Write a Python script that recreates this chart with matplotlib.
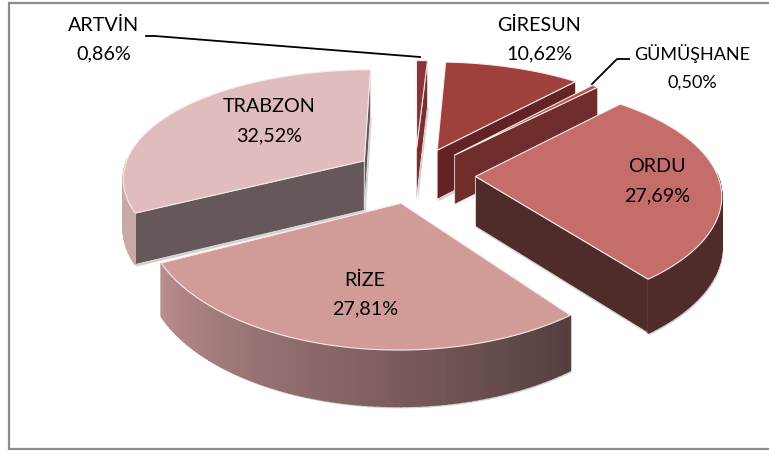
# exploded 3d pie, drawn by hand because matplotlib has no perspective pie
import numpy as np
import matplotlib
matplotlib.use('Agg')
import matplotlib.pyplot as plt
from matplotlib.patches import Polygon, Rectangle

names = ['ARTVİN', 'GİRESUN', 'GÜMÜŞHANE', 'ORDU', 'RİZE', 'TRABZON']
shares = [0.86, 10.62, 0.50, 27.69, 27.81, 32.52]

top_colors = ['#8a3433', '#a0403c', '#bc4f4a', '#c56d6a', '#d19c98', '#e0bcbc']
face_colors = ['#7a2e2e', '#632323', '#6f2d2c', '#4f2c2a', '#8a6a6a', '#665858']
rim_colors = ['#7a2e2e', '#632323', '#6f2d2c', '#4f2c2a', None, '#c9a8a8']
label_pos = [(104, 25), (539, 25), (692, 54), (657, 167), (365, 280), (269, 107)]
label_size = [14.2, 14.2, 13, 14.2, 14.2, 14.2]

# projection settings, in pixels
cx, cy = 415, 176
ax_x, ax_y = 242, 111
k_x, k_y = 0.14, 0.17
depth = 50
explode = 0.25


def proj(x, y, z=0.0):
    sx = 1 / (1 + k_x * y)
    sy = 1 / (1 + k_y * y)
    return cx + ax_x * x * sx, cy - ax_y * y * sy + depth * z * np.sqrt(sy)


def area(pts):
    pts = np.array(pts)
    x, y = pts[:, 0], pts[:, 1]
    return 0.5 * np.sum(x * np.roll(y, -1) - np.roll(x, -1) * y)


fig = plt.figure(figsize=(7.69, 4.52), dpi=100)
ax = fig.add_axes([0, 0, 1, 1])
ax.set_xlim(0, 769)
ax.set_ylim(452, 0)
ax.axis('off')
plt.rcParams['font.family'] = ['Lato', 'DejaVu Sans']

ax.add_patch(Rectangle((9, 4), 765, 446, fc='white', ec='#8c8c8c', lw=1.6, zorder=0))

angles = np.cumsum([0] + shares) * 3.6
draw_order = [0, 1, 2, 5, 3, 4]


def draw_slice(i):
    a0, a1 = np.radians(angles[i]), np.radians(angles[i + 1])
    mid = (a0 + a1) / 2
    ox, oy = explode * np.sin(mid), explode * np.cos(mid)
    t = np.linspace(a0, a1, 80)
    xs, ys = ox + np.sin(t), oy + np.cos(t)

    top = [proj(ox, oy)] + [proj(x, y) for x, y in zip(xs, ys)]
    apex_low = proj(ox, oy, 1)

    # soft shadow under the rim and cut faces
    low = [apex_low] + [proj(x, y, 1) for x, y in zip(xs, ys)]
    ax.add_patch(Polygon([(x + 1.5, y + 2) for x, y in low], fc='#b8b4b4', ec='none', alpha=0.6))

    # cut faces, only when they turn to the viewer
    for a, sign in ((a0, -1), (a1, 1)):
        ex, ey = ox + np.sin(a), oy + np.cos(a)
        face = [proj(ox, oy), proj(ex, ey), proj(ex, ey, 1), apex_low]
        if area(face) * sign > 0:
            ax.add_patch(Polygon(face, fc=face_colors[i], ec='#e8e0e0', lw=0.6))

    # outer rim, split so the gradient on RİZE can follow the arc
    for n in range(len(t) - 1):
        if np.cos((t[n] + t[n + 1]) / 2) > 0.03:
            continue
        q = [proj(xs[n], ys[n]), proj(xs[n + 1], ys[n + 1]),
             proj(xs[n + 1], ys[n + 1], 1), proj(xs[n], ys[n], 1)]
        if rim_colors[i] is None:
            f = n / (len(t) - 2)
            col = tuple(((1 - f) * np.array([84, 62, 62]) + f * np.array([186, 140, 140])) / 255)
        else:
            col = rim_colors[i]
        ax.add_patch(Polygon(q, fc=col, ec=col, lw=1.2))

    ax.add_patch(Polygon(top, fc=top_colors[i], ec='#f4ecec', lw=0.8))


for i in draw_order:
    draw_slice(i)

# leader lines for the two small slices
ax.plot([146, 155, 420], [37, 37, 58], color='black', lw=1.3, zorder=6)
ax.plot([629, 617, 592], [60, 60, 85], color='black', lw=1.3, zorder=6)

for name, share, (x, y), size in zip(names, shares, label_pos, label_size):
    ax.text(x, y, name, ha='center', va='center', fontsize=size, zorder=7)
    ax.text(x, y + 29, f'{share:.2f}%'.replace('.', ','), ha='center', va='center', fontsize=size, zorder=7)

fig.savefig('out.png', dpi=100)
